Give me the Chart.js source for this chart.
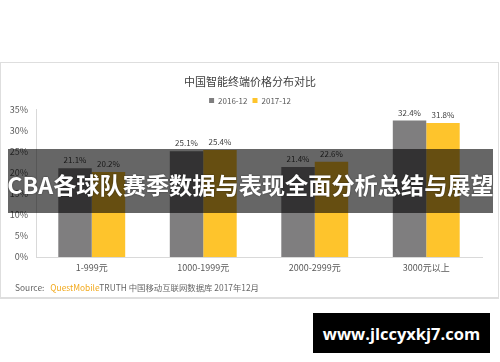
<!DOCTYPE html>
<html>
<head>
<meta charset="utf-8">
<script src="https://cdn.jsdelivr.net/npm/chart.js@4.4.1/dist/chart.umd.min.js"></script>
<style>
  html, body { margin: 0; padding: 0; background: #ffffff; }
  #wrap { position: relative; width: 500px; height: 362px; overflow: hidden; background: #fff;
          font-family: 'Noto Sans CJK SC', 'Noto Sans', sans-serif; }
  #card { position: absolute; left: 0px; top: 62px; width: 497px; height: 234px;
          border: 1px solid #dedede; border-bottom-width: 2px; background: #fff; }
  #c { position: absolute; left: 0; top: 0; }
  #source { position: absolute; left: 15px; top: 281px; font-size: 8.4px; color: #666; white-space: nowrap; line-height: 12px; }
  #source .qm { color: #f2a91c; margin-left: 6px; }
  #band { position: absolute; left: 8px; top: 149px; width: 485px; height: 64px; background: rgba(0,0,0,0.6);
          display: flex; align-items: center; justify-content: center; }
  #band span { color: #fff; font-weight: bold; font-size: 23.2px; white-space: nowrap; line-height: 1;
          margin-top: 7px; text-shadow: 0 0 2px rgba(0,0,0,0.5); }
  #wm { position: absolute; left: 313px; top: 313px; width: 177px; height: 40px; background: #000;
        display: flex; align-items: center; justify-content: center; }
  #wm span { color: #fff; font-family: 'Open Sans', sans-serif; font-weight: bold; font-size: 16.5px; white-space: nowrap; }
</style>
</head>
<body>
<div id="wrap">
  <div id="card"></div>
  <canvas id="c" width="500" height="362"></canvas>
  <div id="source">Source:<span class="qm">QuestMobile</span>TRUTH 中国移动互联网数据库 2017年12月</div>
  <div id="band"><span>CBA各球队赛季数据与表现全面分析总结与展望</span></div>
  <div id="wm"><span>www.jlccyxkj7.com</span></div>
</div>
<script>
const titleText = '中国智能终端价格分布对比';
const categories = ['1-999元', '1000-1999元', '2000-2999元', '3000元以上'];
const seriesNames = ['2016-12', '2017-12'];
const values2016 = [21.1, 25.1, 21.4, 32.4];
const values2017 = [20.2, 25.4, 22.6, 31.8];
const yTickValues = [0, 5, 10, 15, 20, 25, 30, 35];

const FONT = "'Noto Sans CJK SC', 'Noto Sans', sans-serif";

const valueLabels = {
  id: 'valueLabels',
  afterDatasetsDraw(chart) {
    const ctx = chart.ctx;
    ctx.save();
    ctx.font = '8px ' + FONT;
    ctx.fillStyle = '#404040';
    ctx.textAlign = 'center';
    ctx.textBaseline = 'middle';
    chart.data.datasets.forEach((ds, di) => {
      const meta = chart.getDatasetMeta(di);
      meta.data.forEach((el, i) => {
        ctx.fillText(ds.data[i].toFixed(1) + '%', el.x, el.y - 8);
      });
    });
    ctx.restore();
  }
};

// tighten the space below the legend row
const legendGap = {
  id: 'legendGap',
  beforeLayout(chart) {
    const lg = chart.legend;
    if (lg && !lg._gapPatched) {
      const orig = lg.fit;
      lg.fit = function () { orig.call(this); this.height = Math.max(0, this.height - 5); };
      lg._gapPatched = true;
    }
  }
};

new Chart(document.getElementById('c'), {
  type: 'bar',
  data: {
    labels: categories,
    datasets: [
      { label: seriesNames[0], data: values2016, backgroundColor: '#7f7e7f', categoryPercentage: 0.6, barPercentage: 1.0 },
      { label: seriesNames[1], data: values2017, backgroundColor: '#fec42c', categoryPercentage: 0.6, barPercentage: 1.0 }
    ]
  },
  options: {
    responsive: false,
    animation: false,
    devicePixelRatio: 1,
    layout: { padding: { top: 65, left: 0, right: 0, bottom: 85 } },
    plugins: {
      title: { display: true, text: titleText, color: '#404040',
               font: { family: FONT, size: 11, weight: 'normal' }, padding: { top: 10, bottom: 3.4 } },
      legend: { display: true, position: 'top',
                labels: { boxWidth: 5, boxHeight: 5, padding: 5, color: '#595959',
                          font: { family: FONT, size: 8 } } },
      tooltip: { enabled: false }
    },
    scales: {
      x: {
        grid: { display: false, drawTicks: false },
        border: { display: true, color: '#d9d9d9' },
        ticks: { color: '#595959', font: { family: FONT, size: 9 }, padding: 5 },
        afterFit(s) { s.height = 20; }
      },
      y: {
        min: 0, max: 35,
        afterBuildTicks(s) { s.ticks = yTickValues.map(v => ({ value: v })); },
        grid: { display: false, drawTicks: false },
        border: { display: true, color: '#d9d9d9' },
        ticks: { color: '#595959', font: { family: FONT, size: 9 }, padding: 8,
                 callback: v => v + '%' },
        afterFit(s) { s.width = 36; }
      },
      yRightSpacer: {
        position: 'right',
        grid: { display: false, drawTicks: false },
        border: { display: false },
        ticks: { display: false },
        afterFit(s) { s.width = 18; }
      }
    }
  },
  plugins: [valueLabels, legendGap]
});
</script>
</body>
</html>
